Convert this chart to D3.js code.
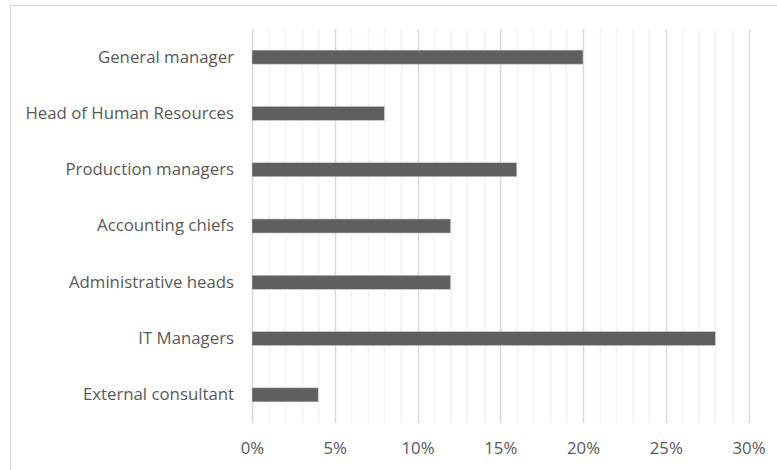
<!DOCTYPE html>
<html lang="en">
<head>
<meta charset="UTF-8">
<script src="https://d3js.org/d3.v7.min.js"></script>
<style>
  body { margin: 0; background: #fff; }
  text { font-family: "Open Sans", sans-serif; fill: #595959; }
</style>
</head>
<body>
<svg id="chart" width="777" height="470"></svg>
<script>
const categories = ["General manager", "Head of Human Resources", "Production managers",
  "Accounting chiefs", "Administrative heads", "IT Managers", "External consultant"];
const values = [0.20, 0.08, 0.16, 0.12, 0.12, 0.28, 0.04];
const tickValues = [0, 0.05, 0.10, 0.15, 0.20, 0.25, 0.30];

const svg = d3.select("#chart");
const width = 777, height = 470;
const margin = {top: 29, right: 28.5, bottom: 47, left: 252};

// chart frame
svg.append("rect")
  .attr("x", 10.5).attr("y", 5.5)
  .attr("width", width).attr("height", height)
  .attr("fill", "none").attr("stroke", "#d9d9d9");

const x = d3.scaleLinear().domain([0, 0.30]).range([margin.left, width - margin.right]);
const y = d3.scaleBand().domain(categories)
  .range([margin.top, height - margin.bottom]).paddingInner(0.75).paddingOuter(0.375);

// minor gridlines
svg.append("g").selectAll("line")
  .data(d3.range(0, 31).map(d => d / 100))
  .join("line")
  .attr("x1", d => Math.round(x(d)) + 0.5).attr("x2", d => Math.round(x(d)) + 0.5)
  .attr("y1", margin.top).attr("y2", height - margin.bottom)
  .attr("stroke", "#f2f2f2").attr("stroke-width", 1.5);

// major gridlines
svg.append("g").selectAll("line")
  .data(tickValues)
  .join("line")
  .attr("x1", d => Math.round(x(d)) + 0.5).attr("x2", d => Math.round(x(d)) + 0.5)
  .attr("y1", margin.top).attr("y2", height - margin.bottom)
  .attr("stroke", "#d9d9d9").attr("stroke-width", 1.5);

// bars
svg.append("g").selectAll("rect")
  .data(values)
  .join("rect")
  .attr("x", x(0))
  .attr("y", (d, i) => y(categories[i]))
  .attr("width", d => x(d) - x(0))
  .attr("height", y.bandwidth())
  .attr("fill", "#5f5f5f")
  .attr("stroke", "#d0d0d0").attr("stroke-width", 0.6);

// x axis labels
const xAxis = d3.axisBottom(x).tickValues(tickValues).tickFormat(d3.format(".0%")).tickSize(0).tickPadding(0);
svg.append("g")
  .attr("transform", `translate(0,${height - margin.bottom + 19})`)
  .call(xAxis)
  .call(g => g.select(".domain").remove())
  .call(g => g.selectAll("text").attr("font-size", 16.8).attr("fill", "#595959")
    .style("font-family", '"Open Sans", sans-serif'));

// y axis labels
const yAxis = d3.axisLeft(y).tickSize(0).tickPadding(18);
svg.append("g")
  .attr("transform", `translate(${margin.left},0)`)
  .call(yAxis)
  .call(g => g.select(".domain").remove())
  .call(g => g.selectAll("text").attr("font-size", 16.8).attr("fill", "#595959")
    .style("font-family", '"Open Sans", sans-serif'));
</script>
</body>
</html>
